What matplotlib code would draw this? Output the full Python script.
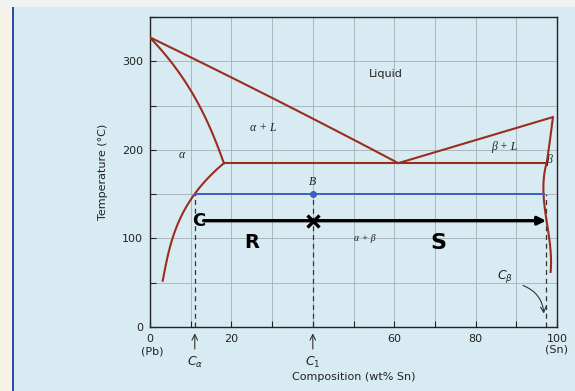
import matplotlib
matplotlib.use('Agg')
import matplotlib.pyplot as plt
from matplotlib.patches import Rectangle
import numpy as np

# phase boundaries (wt% Sn, temperature in C)
liq_left_x   = [0, 32, 61]
liq_left_t   = [327, 254, 185]
sol_left_x   = [0, 4.9, 12.3, 16.7, 18.3]
sol_left_t   = [327, 300, 250, 200, 185]
solv_left_x  = [18.3, 13.5, 11, 8, 5.3, 3.1]
solv_left_t  = [185, 166, 150, 125, 100, 51]
liq_right_x  = [61, 99]
liq_right_t  = [185, 237]
sol_right_x  = [99, 98.3, 97.5]
sol_right_t  = [237, 212, 186]
solv_right_x = [97.5, 96.8, 96.7, 97.4, 98.4]
solv_right_t = [186, 170, 150, 121, 61]
eut_x        = [18.3, 97.5]
eut_t        = [185, 185]

tie_x   = [11, 96.7]
tie_t   = 150
c_alpha = 11
c_one   = 40
c_beta  = 97.2
hand_t  = 120

xticks = [0, 20, 60, 80, 100]
yticks = [0, 100, 200, 300]

bg   = '#d8ebf2'
red  = '#9a2e1e'
blue = '#3b5fc8'


def smooth(xs, ts, deg):
    # boundary drawn as x = f(T), fitted through the read points
    t = np.linspace(ts[0], ts[-1], 100)
    p = np.polyfit(ts, xs, deg)
    x = np.polyval(p, t)
    x[0], x[-1] = xs[0], xs[-1]
    return x, t


fig = plt.figure(figsize=(5.75, 3.91), dpi=100, facecolor=bg)
fig.patches.append(Rectangle((0, 0), 12/575, 1, transform=fig.transFigure,
                             facecolor='#f6f2e6', edgecolor='none', zorder=0))
fig.patches.append(Rectangle((12/575, 0), 2/575, 1, transform=fig.transFigure,
                             facecolor='#2a4db0', edgecolor='none', zorder=0))
fig.patches.append(Rectangle((0, 1 - 7/391), 1, 7/391, transform=fig.transFigure,
                             facecolor='#eef3f2', edgecolor='none', zorder=0))

ax = fig.add_axes([150/575, 64/391, 407/575, 310/391])
ax.set_facecolor(bg)
ax.set_xlim(0, 100)
ax.set_ylim(0, 350)

ax.set_xticks(np.arange(0, 101, 10))
ax.set_xticklabels([str(v) if v in xticks else '' for v in range(0, 101, 10)])
ax.set_yticks(np.arange(0, 351, 50))
ax.set_yticklabels([str(v) if v in yticks else '' for v in range(0, 351, 50)])
ax.tick_params(direction='in', length=4, width=0.8, labelsize=8, colors='#222',
               pad=5)
ax.grid(True, color='#a3afb3', lw=0.6)
for s in ax.spines.values():
    s.set_color('#222')
    s.set_linewidth(1.0)

lw = 1.5
curves = [(liq_left_x, liq_left_t, 2), (sol_left_x, sol_left_t, 3),
          (solv_left_x, solv_left_t, 3), (sol_right_x, sol_right_t, 2),
          (solv_right_x, solv_right_t, 3)]
for xs, ts, deg in curves:
    x, t = smooth(xs, ts, deg)
    ax.plot(x, t, color=red, lw=lw, solid_capstyle='butt', zorder=3)
ax.plot(liq_right_x, liq_right_t, color=red, lw=lw, zorder=3)
ax.plot(eut_x, eut_t, color=red, lw=lw, zorder=3)

# tie line and point B
ax.plot(tie_x, [tie_t, tie_t], color=blue, lw=1.4, zorder=4)
ax.plot([c_one], [tie_t], 'o', color=blue, ms=4, zorder=5)

# dashed drop lines
for xv in [c_alpha, c_one, c_beta]:
    ax.plot([xv, xv], [0, tie_t], color='#333', lw=0.9, ls=(0, (4, 3)), zorder=2)

# region labels
tkw = dict(family='Liberation Serif', style='italic', fontsize=8.5, color='#222')
ax.text(58, 286, 'Liquid', family='DejaVu Sans', fontsize=8, ha='center', va='center', color='#222')
ax.text(27.8, 225, 'α + L', ha='center', va='center', **tkw)
ax.text(7.8, 194, 'α', ha='center', va='center', **tkw)
ax.text(87, 203, 'β + L', ha='center', va='center', **tkw)
ax.text(98, 189, 'β', ha='center', va='center', **tkw)
ax.text(39.8, 164, 'B', ha='center', va='center', **tkw)
ax.text(52.8, 100, 'α + β', ha='center', va='center',
        family='Liberation Serif', style='italic', fontsize=7, color='#222')
ax.text(87.2, 57, r'$C_\beta$', ha='center', va='center', fontsize=9, color='#222')
ax.annotate('', xy=(c_beta - 0.4, 12), xytext=(91, 48),
            arrowprops=dict(arrowstyle='->', color='#333', lw=0.8,
                            connectionstyle='arc3,rad=-0.35'))

# arrows and labels below the axis
for xv, lab in [(c_alpha, r'$C_\alpha$'), (c_one, r'$C_1$')]:
    ax.annotate('', xy=(xv, -4), xytext=(xv, -28), annotation_clip=False,
                arrowprops=dict(arrowstyle='->', color='#333', lw=0.8))
    ax.text(xv, -40, lab, ha='center', va='center', fontsize=9, color='#222',
            clip_on=False)
ax.text(0.5, -28, '(Pb)', ha='center', va='center', fontsize=8, color='#222', clip_on=False)
ax.text(100, -25, '(Sn)', ha='center', va='center', fontsize=8, color='#222', clip_on=False)

ax.set_xlabel('Composition (wt% Sn)', fontsize=8, color='#222', labelpad=20)
ax.set_ylabel('Temperature (°C)', fontsize=8, color='#222', labelpad=10)

# handwritten lever-rule marks
ax.annotate('', xy=(98, hand_t), xytext=(12.5, hand_t),
            arrowprops=dict(arrowstyle='-|>', color='black', lw=2.4,
                            mutation_scale=12), zorder=6)
ax.text(12, hand_t, 'C', fontsize=13, fontweight='bold', ha='center', va='center',
        color='black', zorder=7)
ax.plot([c_one], [hand_t], 'x', color='black', ms=9, mew=2.4, zorder=7)
ax.text(25, 95, 'R', fontsize=14, fontweight='bold', ha='center', va='center',
        color='black', zorder=7)
ax.text(70.8, 95, 'S', fontsize=16, fontweight='bold', ha='center', va='center',
        color='black', zorder=7)

fig.savefig('out.png', dpi=100, facecolor=bg)
